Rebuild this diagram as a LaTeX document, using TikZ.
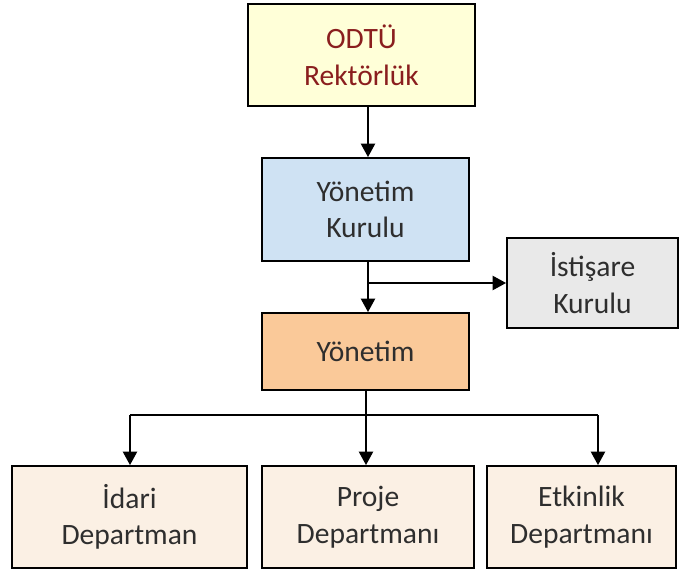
\documentclass[tikz,border=0pt]{standalone}
\usepackage{fontspec}
\setmainfont{Carlito}
\usetikzlibrary{arrows.meta, positioning}

\definecolor{rekfill}{HTML}{FFFFD8}
\definecolor{rektext}{HTML}{8A1E1E}
\definecolor{kurfill}{HTML}{CFE2F3}
\definecolor{istfill}{HTML}{E9E9E9}
\definecolor{yonfill}{HTML}{FAC999}
\definecolor{depfill}{HTML}{FBF0E4}
\definecolor{txt}{HTML}{2E2E2E}

\begin{document}
\begin{tikzpicture}[
  x=0.025cm, y=-0.025cm,
  font=\fontsize{21}{26}\selectfont,
  unit/.style ={draw, line width=1.3pt, align=center, text=txt,
                inner sep=2pt},
  arr/.style  ={-{Triangle[length=9.5pt, width=10pt]}, line width=1.3pt},
  bar/.style  ={line width=1.3pt},
]
\useasboundingbox (0,0) rectangle (680,572);

\node[unit, fill=rekfill, text=rektext, minimum width=227*0.025cm,
      minimum height=102*0.025cm] (rek) at (361.5,55) {ODTÜ\\Rektörlük};
\node[unit, fill=kurfill, minimum width=207*0.025cm,
      minimum height=103*0.025cm] (kurul) at (365.5,209.5) {Yönetim\\Kurulu};
\node[unit, fill=istfill, minimum width=171*0.025cm,
      minimum height=90*0.025cm] (istisare) at (592.5,283) {İstişare\\Kurulu};
\node[unit, fill=yonfill, minimum width=207*0.025cm,
      minimum height=77*0.025cm] (yonetim) at (365.5,351.5) {Yönetim};

\node[unit, fill=depfill, minimum width=235*0.025cm,
      minimum height=102*0.025cm] (idari) at (129.5,517) {İdari\\Departman};
\node[unit, fill=depfill, minimum width=212*0.025cm,
      minimum height=102*0.025cm] (proje) at (368,517) {Proje\\Departmanı};
\node[unit, fill=depfill, minimum width=189*0.025cm,
      minimum height=102*0.025cm] (etkinlik) at (581.5,517) {Etkinlik\\Departmanı};

% branch points
\coordinate (split) at (368,283);
\coordinate (b1) at (130,415);
\coordinate (b2) at (366,415);
\coordinate (b3) at (598,415);

\draw[arr] (rek.south -| split) -- (kurul.north -| split);
\draw[arr] (kurul.south -| split) -- (yonetim.north -| split);
\draw[arr] (split) -- (istisare.west |- split);
\draw[bar] (yonetim.south -| b2) -- (b2);
\draw[bar] (b1) -- (b3);
\draw[arr] (b1) -- (b1 |- idari.north);
\draw[arr] (b2) -- (b2 |- proje.north);
\draw[arr] (b3) -- (b3 |- etkinlik.north);
\end{tikzpicture}
\end{document}
